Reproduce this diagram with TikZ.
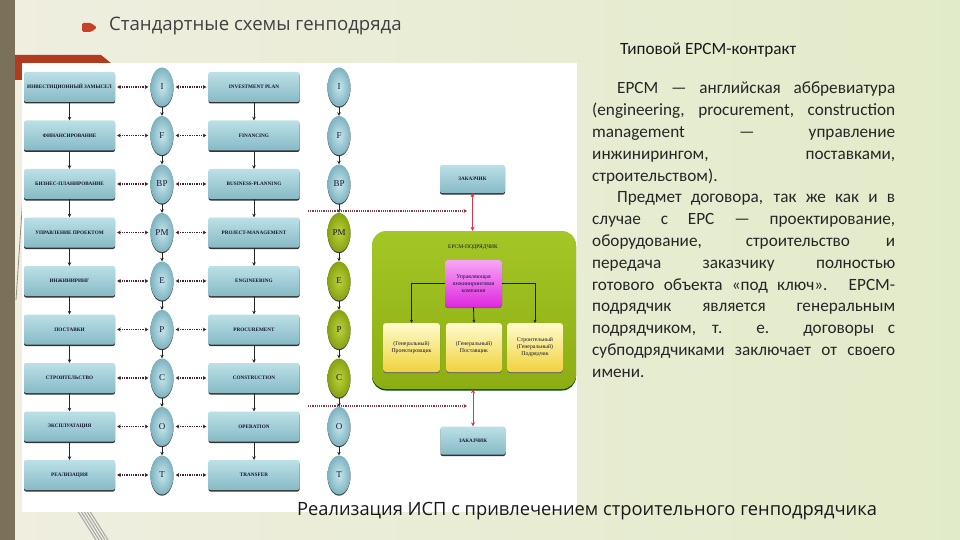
\documentclass[tikz,border=0pt]{standalone}
\usepackage{fontspec}
\setmainfont{Liberation Serif}
\newfontfamily\calfont{Carlito}
\newfontfamily\gothfont{Open Sans}
\usetikzlibrary{shapes.geometric,arrows.meta,shadows}
\definecolor{bgL}{HTML}{EFEEE0}
\definecolor{bgR}{HTML}{E2EBC9}
\definecolor{stripec}{HTML}{7B7158}
\definecolor{redband}{HTML}{B23A1E}
\definecolor{bulred}{HTML}{C8402A}
\definecolor{titleg}{HTML}{404040}
\definecolor{boxtop}{HTML}{BCE0E6}
\definecolor{boxbot}{HTML}{86BAC6}
\definecolor{navy}{HTML}{141432}
\definecolor{tin}{HTML}{C8E6EC}
\definecolor{tout}{HTML}{7DB3C0}
\definecolor{gin}{HTML}{BCD23C}
\definecolor{gout}{HTML}{86A212}
\definecolor{dotc}{HTML}{4A2228}
\definecolor{hdotc}{HTML}{8A3A44}
\definecolor{redarrc}{HTML}{E0304A}
\definecolor{gtop}{HTML}{A4C626}
\definecolor{gbot}{HTML}{8DAE12}
\definecolor{magtop}{HTML}{F6A6F6}
\definecolor{magbot}{HTML}{E028E0}
\definecolor{yeltop}{HTML}{FFFBCC}
\definecolor{yelbot}{HTML}{F0D23C}
\begin{document}
\begin{tikzpicture}[x=1pt,y=-1pt,
  lbox/.style={rectangle, rounded corners=2pt, minimum width=91pt, minimum height=30pt,
    inner sep=1pt, top color=boxtop, bottom color=boxbot,
    drop shadow={shadow xshift=0pt, shadow yshift=-1.5pt, fill=black!80, opacity=1},
    font=\fontsize{5.2}{6}\selectfont\bfseries, text=navy},
  circ/.style={ellipse, minimum width=23pt, minimum height=39pt, inner sep=0pt,
    drop shadow={shadow xshift=0pt, shadow yshift=-1.2pt, fill=black!75, opacity=1},
    font=\fontsize{9}{10}\selectfont, text=navy},
  dotarr/.style={densely dotted, line width=1.3pt, draw=dotc,
    {Stealth[length=3.5pt,width=4pt]}-{Stealth[length=3.5pt,width=4pt]},
    shorten >=2pt, shorten <=2pt},
  varr/.style={-{Stealth[length=3.5pt,width=3.5pt]}, line width=0.8pt, draw=black!85},
  hdot/.style={densely dotted, line width=1.2pt, draw=hdotc, -{Stealth[length=3.5pt,width=4pt]}},
  redarr/.style={line width=1pt, draw=redarrc, {Stealth[length=4pt,width=4pt]}-{Stealth[length=4pt,width=4pt]}},
  smallbox/.style={rectangle, rounded corners=3pt, inner sep=1pt, align=center,
    font=\fontsize{5.8}{7}\selectfont, text=navy,
    drop shadow={shadow xshift=0pt, shadow yshift=-1.2pt, fill=black!60, opacity=1}},
  conn/.style={line width=0.8pt, draw=black!90, -{Stealth[length=3pt,width=3pt]}}
]
\useasboundingbox (0,0) rectangle (960,540);
% background
\shade[left color=bgL, right color=bgR] (0,0) rectangle (960,540);
\fill[stripec] (0,0) rectangle (15,540);
\fill[redband] (15,55) -- (101,55) -- (117,68) -- (117,80) -- (15,80) -- cycle;
\draw[stripec!80, line width=0.8pt] (24,180) -- (16,300);
\foreach \d in {0,3,6,9,12}{
  \draw[gray!70, line width=1pt] ({74+\d},505) -- ({96+\d},540);
}
% bullet and title
\fill[bulred, rounded corners=1.5pt] (82,23) -- (91,23) -- (97,27.5) -- (91,32) -- (82,32) -- cycle;
\node[anchor=west, inner sep=0pt, font=\gothfont\fontsize{18.6}{21}\selectfont, text=titleg] (title) at (109,26) {Стандартные схемы генподряда};
% white picture area
\fill[white] (22,63) rectangle (577,512);
% rows
\foreach \ru/\en/\ab/\ci/\co [count=\k] in {
 ИНВЕСТИЦИОННЫЙ ЗАМЫСЕЛ/INVESTMENT PLAN/I/tin/tout,
 ФИНАНСИРОВАНИЕ/FINANCING/F/tin/tout,
 БИЗНЕС-ПЛАНИРОВАНИЕ/BUSINESS-PLANNING/BP/tin/tout,
 УПРАВЛЕНИЕ ПРОЕКТОМ/PROJECT-MANAGEMENT/PM/gin/gout,
 ИНЖИНИРИНГ/ENGINEERING/E/gin/gout,
 ПОСТАВКИ/PROCUREMENT/P/gin/gout,
 СТРОИТЕЛЬСТВО/CONSTRUCTION/C/gin/gout,
 ЭКСПЛУАТАЦИЯ/OPERATION/O/tin/tout,
 РЕАЛИЗАЦИЯ/TRANSFER/T/tin/tout}
{
 \pgfmathsetmacro\yy{87+48.5*(\k-1)}
 \node[lbox] (L\k) at (69.5,\yy) {\ru};
 \node[circ, inner color=tin, outer color=tout] (A\k) at (162,\yy) {\ab};
 \node[lbox] (M\k) at (254,\yy) {\en};
 \node[circ, inner color=\ci, outer color=\co] (B\k) at (339,\yy) {\ab};
 \draw[dotarr] (L\k) -- (A\k);
 \draw[dotarr] (A\k) -- (M\k);
}
\foreach \k [evaluate=\k as \n using int(\k+1)] in {1,...,8}{
 \draw[varr] (L\k.south) -- (L\n.north);
 \draw[varr] (M\k.south) -- (M\n.north);
 \draw[varr] (A\k.south) -- (A\n.north);
 \draw[varr] (B\k.south) -- (B\n.north);
}
% customer boxes
\node[lbox, minimum width=65pt, minimum height=28pt] (Z1) at (472.5,179) {ЗАКАЗЧИК};
\node[lbox, minimum width=65pt, minimum height=28pt] (Z2) at (473,440.5) {ЗАКАЗЧИК};
% green contractor block
\node[rectangle, rounded corners=14pt, minimum width=204pt, minimum height=158pt,
  top color=gtop, bottom color=gbot,
  drop shadow={shadow xshift=0pt, shadow yshift=-1.5pt, fill=black!70!green, opacity=1}] (G) at (474,310) {};
\node[font=\fontsize{5.5}{6}\selectfont, text=navy] (Gt) at (473,247) {ЕРСМ-ПОДРЯДЧИК};
\node[smallbox, minimum width=57pt, minimum height=47pt, top color=magtop, bottom color=magbot] (Mg) at (473.5,283.5) {Управляющая\\инжиниринговая\\компания};
\node[smallbox, minimum width=57pt, minimum height=49pt, top color=yeltop, bottom color=yelbot] (Y1) at (411.5,347.5) {(Генеральный)\\Проектировщик};
\node[smallbox, minimum width=56pt, minimum height=49pt, top color=yeltop, bottom color=yelbot] (Y2) at (474,347.5) {(Генеральный)\\Поставщик};
\node[smallbox, minimum width=56pt, minimum height=49pt, top color=yeltop, bottom color=yelbot] (Y3) at (535,347.5) {Строительный\\(Генеральный)\\Подрядчик};
\draw[conn] (Mg.west) -| (Y1.north);
\draw[conn] (Mg.east) -| (Y3.north);
\draw[conn] (Mg.south) -- (Y2.north);
% red arrows
\draw[redarr] (Z1.south) -- (Z1.south |- G.north);
\draw[redarr] (Z2.north |- G.south) -- (Z2.north);
% dotted boundaries
\coordinate (h1s) at (308,211);
\coordinate (h1e) at (467,211);
\coordinate (h2s) at (308,406);
\coordinate (h2e) at (467,406);
\draw[hdot] (h1s) -- (h1e);
\draw[hdot] (h2s) -- (h2e);
% right text
\node[anchor=west, inner sep=0pt, font=\calfont\fontsize{17.2}{20}\selectfont, text=black!90] (rt) at (620,50) {Типовой ЕРСМ-контракт};
\node[anchor=north west, inner sep=0pt, text width=303pt, align=justify,
  font=\calfont\fontsize{17.2}{21.8}\selectfont, text=black!85] (para) at (592,82) {%
\hspace*{25pt}ЕРСМ — английская аббревиатура\linebreak
(engineering, procurement, construction\linebreak
management — управление\linebreak
инжинирингом, поставками,\linebreak
строительством).\par
\hspace*{25pt}Предмет договора, так же как и в\linebreak
случае с ЕРС — проектирование,\linebreak
оборудование, строительство и\linebreak
передача заказчику полностью\linebreak
готового объекта «под ключ». ЕРСМ-\linebreak
подрядчик является генеральным\linebreak
подрядчиком, т. е. договоры с\linebreak
субподрядчиками заключает от своего\linebreak
имени.};
% caption
\node[anchor=west, inner sep=0pt, font=\gothfont\fontsize{18.3}{21}\selectfont, text=black!90] (cap) at (297,511) {Реализация ИСП с привлечением строительного генподрядчика};
\end{tikzpicture}
\end{document}
